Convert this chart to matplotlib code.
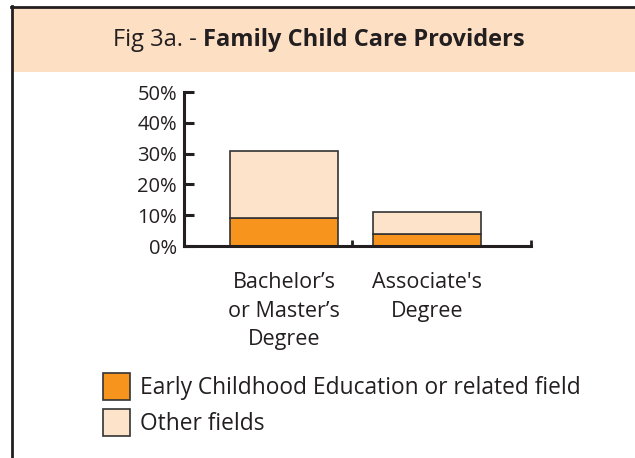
import matplotlib.pyplot as plt
from matplotlib.patches import Rectangle
from matplotlib.lines import Line2D

categories = ["Bachelor\u2019s\nor Master\u2019s\nDegree", "Associate's\nDegree"]
ece_field = [9, 4]
other_fields = [22, 7]
yticks = [0, 10, 20, 30, 40, 50]
legend_labels = ["Early Childhood Education or related field", "Other fields"]

orange = "#F7941D"
peach = "#FDE3C9"
header = "#FDDFC3"
edge = "#333333"
ink = "#231F20"

plt.rcParams['font.family'] = ['Open Sans', 'DejaVu Sans']

W, H = 635, 458
fig = plt.figure(figsize=(W / 100, H / 100), dpi=100)

def fx(px):
    return px / W

def fy(py):
    return 1 - py / H

# frame and header band
fig.patches.append(Rectangle((fx(12), fy(72)), 1, fy(7) - fy(72), transform=fig.transFigure,
                             facecolor=header, edgecolor="none", zorder=0))
fig.lines.append(Line2D([fx(12), fx(12)], [0, fy(6)], transform=fig.transFigure,
                        color=ink, lw=2))
fig.lines.append(Line2D([fx(11), 1], [fy(6.5), fy(6.5)], transform=fig.transFigure,
                        color=ink, lw=2))

fig.text(fx(203), fy(40), "Fig 3a. - ", ha="right", va="center", fontsize=17, color=ink)
fig.text(fx(203), fy(40), "Family Child Care Providers", ha="left", va="center",
         fontsize=17, fontweight="bold", color=ink)

ax = fig.add_axes([fx(184), fy(246), fx(531) - fx(184), fy(92) - fy(246)])
x = [0, 1]
width = 0.755
ax.bar(x, ece_field, width, color=orange, edgecolor=edge, linewidth=1.2)
ax.bar(x, other_fields, width, bottom=ece_field, color=peach, edgecolor=edge, linewidth=1.2)

ax.set_xlim(-0.7, 1.727)
ax.set_ylim(0, 50)
ax.set_yticks(yticks)
ax.set_yticklabels([f"{v}%" for v in yticks], fontsize=14.5, color=ink)
ax.tick_params(axis="y", direction="in", length=7, width=2.2, pad=5, color=ink)
ax.set_xticks(x)
ax.set_xticklabels(categories, fontsize=15.5, color=ink, linespacing=1.45, va="top")
ax.tick_params(axis="x", length=0, pad=19)
ax.set_xticks([0.476, 1.727], minor=True)
ax.tick_params(axis="x", which="minor", direction="in", length=4, width=2, color=ink)

for s in ["top", "right"]:
    ax.spines[s].set_visible(False)
for s in ["left", "bottom"]:
    ax.spines[s].set_linewidth(2.2)
    ax.spines[s].set_color(ink)
ax.patch.set_alpha(0)

# legend
for i, (lab, col) in enumerate(zip(legend_labels, [orange, peach])):
    top = 373 + i * 36
    fig.patches.append(Rectangle((fx(103), fy(top + 27)), fx(27), fy(top) - fy(top + 27),
                                 transform=fig.transFigure, facecolor=col, edgecolor=edge, lw=1.2))
    fig.text(fx(140), fy(top + 15), lab, ha="left", va="center", fontsize=16.4, color=ink)

fig.savefig("out.png", dpi=100)
